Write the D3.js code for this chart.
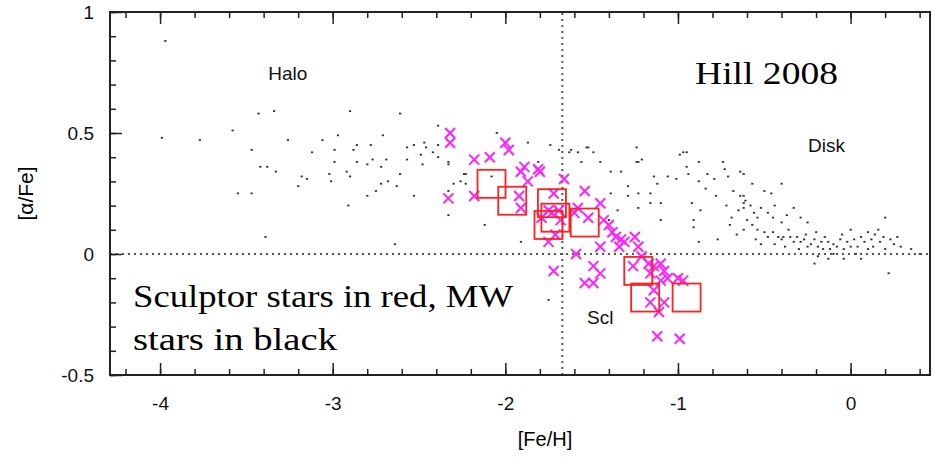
<!DOCTYPE html>
<html>
<head>
<meta charset="utf-8">
<script src="https://cdn.jsdelivr.net/npm/d3@7"></script>
<style>
  body { margin: 0; background: #fff; }
</style>
</head>
<body>
<script>
// Milky Way stars [Fe/H, alpha/Fe]
const mwStars = [
  [-3.97,0.88],[-3.99,0.48],[-3.77,0.47],[-3.58,0.51],[-3.43,0.58],[-3.34,0.59],[-2.9,0.59],[-2.61,0.58],
  [-3.47,0.43],[-3.42,0.36],[-3.38,0.36],[-3.55,0.25],[-3.47,0.25],[-3.39,0.07],[-3.26,0.47],[-3.33,0.34],
  [-3.2,0.28],[-3.18,0.32],[-3.15,0.31],[-3.12,0.42],[-3.06,0.47],[-2.99,0.43],[-2.99,0.38],[-3.02,0.33],
  [-3.01,0.3],[-2.97,0.49],[-2.92,0.34],[-2.9,0.32],[-2.91,0.2],[-2.88,0.43],[-2.86,0.45],[-2.86,0.38],
  [-2.8,0.37],[-2.78,0.45],[-2.77,0.39],[-2.8,0.24],[-2.75,0.26],[-2.72,0.29],[-2.71,0.49],[-2.72,0.36],
  [-2.69,0.39],[-2.68,0.3],[-2.63,0.28],[-2.61,0.33],[-2.64,0.04],[-2.57,0.44],[-2.57,0.39],[-2.53,0.45],
  [-2.53,0.24],[-2.49,0.41],[-2.48,0.37],[-2.47,0.46],[-2.46,0.44],[-2.42,0.42],[-2.39,0.53],[-2.39,0.45],
  [-2.39,0.4],[-2.33,0.37],[-2.33,0.26],[-2.33,0.16],[-2.3,0.29],[-2.26,0.3],[-2.23,0.33],[-2.23,0.29],
  [-2.05,0.5],[-1.87,0.46],[-1.74,0.45],[-1.69,0.43],[-1.63,0.42],[-2.33,0.38],[-2.24,0.33],[-2.08,0.32],
  [-2.12,0.12],[-1.91,0.05],[-1.75,-0.19],[-1.81,0.38],[-1.58,0.42],[-1.52,0.44],[-1.45,0.38],[-1.23,0.38],
  [-1.21,0.39],[-1.14,0.32],[-1.16,0.21],[-0.97,0.42],[-0.91,0.14],[-0.88,0.05],[-1.29,0.24],[-1.4,0.14],
  [-1.35,0.18],[-1.62,0.43],[-1.53,0.44],[-1.49,0.42],[-1.24,0.44],[-1.24,0.38],[-1.39,0.34],[-1.33,0.34],
  [-1.29,0.28],[-1.23,0.25],[-1.16,0.25],[-1.12,0.29],[-1.1,0.21],[-1.1,0.14],[-1.06,0.32],[-1.01,0.31],
  [-0.99,0.41],[-0.95,0.42],[-0.95,0.36],[-0.94,0.33],[-0.88,0.38],[-0.88,0.3],[-0.83,0.33],[-0.79,0.31],
  [-0.74,0.38],[-0.73,0.35],[-0.71,0.32],[-0.64,0.34],[-0.62,0.33],[-0.68,0.26],[-0.62,0.24],[-0.61,0.22],
  [-0.57,0.29],[-0.5,0.26],[-0.46,0.25],[-0.4,0.29],[-0.92,0.21],[-0.87,0.18],[-0.91,0.11],[-0.77,0.06],
  [-0.69,0.15],[-0.65,0.18],[-0.62,0.1],[-0.6,0.14],[-0.57,0.12],[-0.54,0.1],[-0.5,0.09],[-0.48,0.07],
  [-0.45,0.09],[-0.42,0.07],[-0.4,0.06],[-0.39,0.07],[-0.36,0.1],[-0.35,0.07],[-0.33,0.05],[-0.31,0.07],
  [-0.29,0.05],[-0.27,0.06],[-0.25,0.03],[-0.23,0.04],[-0.33,0.19],[-0.29,0.15],[-0.25,0.13],[-0.21,0.06],
  [-0.19,0.03],[-0.17,0.05],[-0.16,0.02],[-0.13,0.05],[-0.12,0.02],[-0.1,0.0],[-0.08,0.03],[-0.06,0.06],
  [-0.04,0.02],[-0.02,0.05],[0,0.1],[0.02,0.06],[0.04,0.03],[0.06,0.07],[0.08,0.05],[0.1,0.09],
  [0.12,0.06],[0.13,0.03],[0.16,0.1],[0.17,0.05],[0.19,0.07],[0.23,0.06],[0.25,0.04],[0.29,0.03],
  [0.35,0.02],[0.4,0.0],[0.2,0.15],[0.22,-0.08],[-0.19,-0.01],[-0.13,-0.02],[-0.04,-0.02],[0.06,-0.02],
  [-0.21,-0.04],[-0.52,0.19],[-0.48,0.17],[-0.45,0.15],[-0.4,0.13],[-0.64,0.24],[-0.62,0.21],[-0.62,0.19],
  [-0.56,0.17],[-0.54,0.15],[-1.56,0.38],[-1.39,0.25],[-1.23,0.19],
  [-0.55,0.06],[-0.52,0.04],[-0.44,0.04],[-0.38,0.03],[-0.3,0.02],[-0.26,0.08],[-0.2,0.09],[-0.15,0.07],
  [-0.1,0.04],[-0.05,0.08],[0.0,0.03],[0.03,0.0],[0.1,0.02],[0.14,0.08],[0.2,0.02],[0.27,0.07],
  [-0.7,0.12],[-0.66,0.08],[-0.72,0.2],[-0.78,0.24],[-0.84,0.27],[-0.58,0.2],[-0.44,0.2],[-0.37,0.16]
];

// Sculptor stars: crosses and high-resolution squares
const sclCrosses = [
  [-2.32,0.5],[-2.32,0.46],[-2.33,0.23],[-2.18,0.39],[-2.09,0.4],[-2.0,0.46],[-1.98,0.43],[-2.18,0.24],
  [-1.91,0.34],[-1.89,0.36],[-1.81,0.35],[-1.8,0.34],[-1.87,0.3],[-1.92,0.24],[-1.91,0.19],[-1.66,0.31],
  [-1.54,0.26],[-1.72,0.25],[-1.69,0.18],[-1.73,0.17],[-1.68,0.14],[-1.79,0.15],[-1.75,0.18],[-1.71,0.08],
  [-1.75,0.05],[-1.72,-0.07],[-1.6,0.17],[-1.58,0.19],[-1.52,0.15],[-1.45,0.21],[-1.43,0.14],[-1.4,0.12],
  [-1.38,0.09],[-1.36,0.07],[-1.33,0.06],[-1.31,0.05],[-1.34,0.03],[-1.45,0.03],[-1.25,0.07],[-1.23,0.03],
  [-1.59,0.0],[-1.49,-0.05],[-1.45,-0.08],[-1.49,-0.12],[-1.54,-0.12],[-1.21,-0.01],[-1.17,-0.04],[-1.16,-0.08],
  [-1.14,-0.05],[-1.1,-0.04],[-1.08,-0.07],[-1.06,-0.1],[-1.1,-0.11],[-1.16,-0.2],[-1.14,-0.15],[-1.08,-0.2],
  [-1.11,-0.24],[-1.0,-0.1],[-0.97,-0.11],[-1.12,-0.34],[-0.99,-0.35],[-1.26,-0.05]
];
const sclSquares = [
  [-2.08,0.29],[-1.96,0.22],[-1.73,0.21],[-1.71,0.15],[-1.75,0.12],[-1.54,0.13],[-1.23,-0.07],[-1.19,-0.18],[-0.95,-0.18]
];

const xTicks = [-4, -3, -2, -1, 0];
const xTickLabels = ['-4', '-3', '-2', '-1', '0'];
const yTicks = [-0.5, 0, 0.5, 1];
const yTickLabels = ['-0.5', '0', '0.5', '1'];

const W = 934, H = 458;
const margin = {left: 110, right: 4, top: 12, bottom: 83};

const svg = d3.select('body').append('svg')
  .attr('width', W)
  .attr('height', H);

const x = d3.scaleLinear().domain([-4.29, 0.46]).range([margin.left, W - margin.right]);
const y = d3.scaleLinear().domain([-0.5, 1]).range([H - margin.bottom, margin.top]);

svg.append('clipPath').attr('id', 'plot')
  .append('rect')
  .attr('x', margin.left).attr('y', margin.top)
  .attr('width', x.range()[1] - x.range()[0])
  .attr('height', y.range()[0] - y.range()[1]);

// reference lines
svg.append('line')
  .attr('x1', x.range()[0]).attr('x2', x.range()[1])
  .attr('y1', y(0)).attr('y2', y(0))
  .attr('stroke', '#555').attr('stroke-width', 2).attr('stroke-dasharray', '2,4');
svg.append('line')
  .attr('x1', x(-1.67)).attr('x2', x(-1.67))
  .attr('y1', y.range()[0]).attr('y2', y.range()[1])
  .attr('stroke', '#555').attr('stroke-width', 2).attr('stroke-dasharray', '2,4');

const g = svg.append('g').attr('clip-path', 'url(#plot)');

g.selectAll('rect.mw')
  .data(mwStars)
  .join('rect')
  .attr('class', 'mw')
  .attr('x', (d) => x(d[0]) - 1)
  .attr('y', (d) => y(d[1]) - 1)
  .attr('width', 2.2)
  .attr('height', 1.8)
  .attr('fill', '#333');

const cs = 5;
g.selectAll('path.cross')
  .data(sclCrosses)
  .join('path')
  .attr('class', 'cross')
  .attr('d', (d) => {
    const cx = x(d[0]), cy = y(d[1]);
    return `M${cx - cs} ${cy - cs}L${cx + cs} ${cy + cs}M${cx - cs} ${cy + cs}L${cx + cs} ${cy - cs}`;
  })
  .attr('stroke', '#ff22ff')
  .attr('stroke-width', 2)
  .attr('fill', 'none');

const sq = 28;
g.selectAll('rect.sq')
  .data(sclSquares)
  .join('rect')
  .attr('class', 'sq')
  .attr('x', (d) => x(d[0]) - sq / 2)
  .attr('y', (d) => y(d[1]) - sq / 2)
  .attr('width', sq)
  .attr('height', sq)
  .attr('fill', 'none')
  .attr('stroke', '#ff2020')
  .attr('stroke-width', 1.8);

// axes with inward ticks
const font = 'Liberation Sans, Arial, sans-serif';
const xMinor = d3.range(-4.2, 0.45, 0.2);
const yMinor = d3.range(-0.5, 1.001, 0.1);

function frameAxis(sel, axis) {
  sel.call(axis);
  sel.select('.domain').remove();
  sel.selectAll('line').attr('stroke', '#222').attr('stroke-width', 1.5);
}

svg.append('g').attr('transform', `translate(0,${y.range()[0]})`)
  .call((s) => frameAxis(s, d3.axisBottom(x).tickValues(xMinor).tickSize(-6).tickFormat('')));
svg.append('g').attr('transform', `translate(0,${y.range()[0]})`)
  .call((s) => frameAxis(s, d3.axisBottom(x).tickValues(xTicks).tickSize(-12).tickPadding(22).tickFormat((d, i) => xTickLabels[i])))
  .selectAll('text').style('font', `19px ${font}`).attr('fill', '#111');
svg.append('g').attr('transform', `translate(0,${y.range()[1]})`)
  .call((s) => frameAxis(s, d3.axisTop(x).tickValues(xMinor).tickSize(-6).tickFormat('')));
svg.append('g').attr('transform', `translate(0,${y.range()[1]})`)
  .call((s) => frameAxis(s, d3.axisTop(x).tickValues(xTicks).tickSize(-12).tickFormat('')));

svg.append('g').attr('transform', `translate(${x.range()[0]},0)`)
  .call((s) => frameAxis(s, d3.axisLeft(y).tickValues(yMinor).tickSize(-6).tickFormat('')));
svg.append('g').attr('transform', `translate(${x.range()[0]},0)`)
  .call((s) => frameAxis(s, d3.axisLeft(y).tickValues(yTicks).tickSize(-12).tickPadding(16).tickFormat((d, i) => yTickLabels[i])))
  .selectAll('text').style('font', `19px ${font}`).attr('fill', '#111');

svg.append('rect')
  .attr('x', x.range()[0]).attr('y', y.range()[1])
  .attr('width', x.range()[1] - x.range()[0])
  .attr('height', y.range()[0] - y.range()[1])
  .attr('fill', 'none').attr('stroke', '#222').attr('stroke-width', 2);

// labels
svg.append('text')
  .attr('x', 545).attr('y', 446)
  .attr('text-anchor', 'middle')
  .style('font', `20px ${font}`).text('[Fe/H]');
svg.append('text')
  .attr('transform', `translate(33,${(y.range()[0] + y.range()[1]) / 2}) rotate(-90)`)
  .attr('text-anchor', 'middle')
  .style('font', `21px ${font}`).text('[α/Fe]');

const notes = [
  {t: 'Halo', x: -3.26, y: 0.72},
  {t: 'Disk', x: -0.14, y: 0.42},
  {t: 'Scl', x: -1.45, y: -0.29},
];
svg.selectAll('text.note')
  .data(notes)
  .join('text')
  .attr('class', 'note')
  .attr('x', (d) => x(d.x)).attr('y', (d) => y(d.y))
  .attr('text-anchor', 'middle')
  .style('font', `19px ${font}`)
  .attr('fill', '#111')
  .text((d) => d.t);

const serif = 'Liberation Serif, Times New Roman, serif';
const bigNotes = [
  {t: 'Hill 2008', x: 695, y: 84, w: 143},
  {t: 'Sculptor stars in red, MW', x: 133, y: 307, w: 380},
  {t: 'stars in black', x: 133, y: 350, w: 204},
];
svg.selectAll('text.big')
  .data(bigNotes)
  .join('text')
  .attr('class', 'big')
  .attr('x', (d) => d.x).attr('y', (d) => d.y)
  .attr('textLength', (d) => d.w)
  .attr('lengthAdjust', 'spacingAndGlyphs')
  .style('font', `32px ${serif}`)
  .text((d) => d.t);
</script>
</body>
</html>
